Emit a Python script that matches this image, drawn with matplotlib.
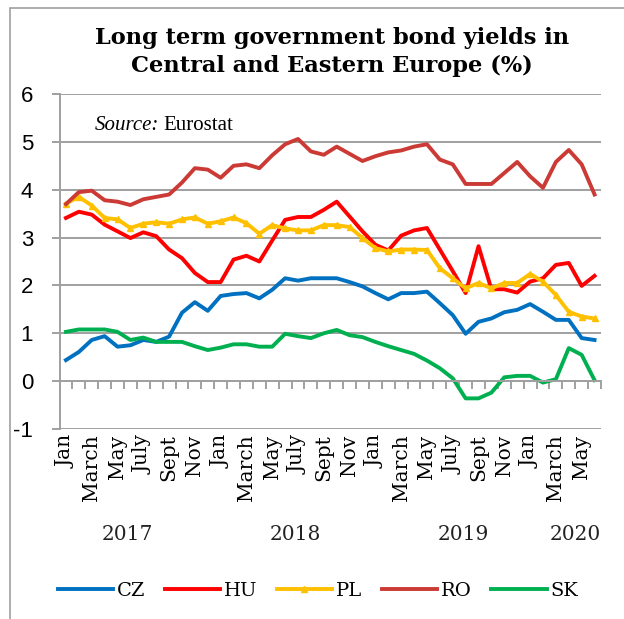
import numpy as np
import matplotlib
matplotlib.use("Agg")
import matplotlib.pyplot as plt
from matplotlib.patches import Rectangle
import matplotlib.transforms as mtransforms

plt.rcParams['axes.unicode_minus'] = False

# monthly yields, Jan 2017 .. Jun 2020
cz = [0.44, 0.61, 0.86, 0.94, 0.72, 0.75, 0.86, 0.82, 0.93, 1.43, 1.65, 1.47,
      1.78, 1.82, 1.84, 1.73, 1.91, 2.15, 2.10, 2.15, 2.15, 2.15, 2.07, 1.98,
      1.84, 1.71, 1.84, 1.84, 1.87, 1.63, 1.38, 0.99, 1.24, 1.31, 1.44, 1.49,
      1.61, 1.45, 1.28, 1.28, 0.90, 0.86]
hu = [3.41, 3.54, 3.48, 3.27, 3.13, 2.99, 3.11, 3.03, 2.75, 2.57, 2.26, 2.07,
      2.07, 2.54, 2.62, 2.50, 2.94, 3.37, 3.43, 3.43, 3.58, 3.75, 3.44, 3.13,
      2.85, 2.73, 3.04, 3.15, 3.20, 2.75, 2.30, 1.84, 2.82, 1.92, 1.92, 1.85,
      2.08, 2.15, 2.43, 2.47, 1.99, 2.20]
pl = [3.71, 3.85, 3.67, 3.41, 3.38, 3.20, 3.29, 3.32, 3.29, 3.38, 3.42, 3.29,
      3.34, 3.42, 3.30, 3.08, 3.26, 3.19, 3.15, 3.15, 3.26, 3.26, 3.22, 2.99,
      2.78, 2.71, 2.75, 2.75, 2.74, 2.36, 2.15, 1.94, 2.05, 1.94, 2.05, 2.05,
      2.24, 2.08, 1.80, 1.45, 1.35, 1.31]
ro = [3.70, 3.95, 3.98, 3.78, 3.75, 3.68, 3.80, 3.85, 3.90, 4.15, 4.45, 4.42,
      4.25, 4.50, 4.53, 4.45, 4.72, 4.95, 5.06, 4.80, 4.73, 4.90, 4.75, 4.60,
      4.70, 4.78, 4.82, 4.90, 4.95, 4.63, 4.53, 4.12, 4.12, 4.12, 4.35, 4.58,
      4.28, 4.04, 4.58, 4.83, 4.53, 3.90]
sk = [1.03, 1.08, 1.08, 1.08, 1.03, 0.86, 0.91, 0.82, 0.82, 0.82, 0.73, 0.65,
      0.70, 0.77, 0.77, 0.72, 0.72, 0.99, 0.94, 0.90, 1.00, 1.07, 0.96, 0.92,
      0.82, 0.73, 0.65, 0.57, 0.43, 0.27, 0.06, -0.36, -0.36, -0.24, 0.08, 0.11,
      0.11, -0.03, 0.04, 0.69, 0.55, 0.02]

month_names = ['Jan', 'Feb', 'March', 'Apr', 'May', 'June',
               'July', 'Aug', 'Sept', 'Oct', 'Nov', 'Dec']
years = ['2017', '2018', '2019', '2020']
year_pos = [4.8, 17.8, 30.8, 39.5]

x = np.arange(len(cz))
grey = '#a0a0a0'

fig = plt.figure(figsize=(6.24, 6.19), dpi=100)
ax = fig.add_axes([59.5 / 624, 1 - 429 / 619, (601 - 59.5) / 624, (429 - 94) / 619])

lw = 2.8
ax.plot(x, cz, color='#0070C0', lw=lw, label='CZ')
ax.plot(x, hu, color='#FF0000', lw=lw, label='HU')
ax.plot(x, pl, color='#FFC000', lw=lw, label='PL', marker='^', markersize=4)
ax.plot(x, ro, color='#CB3A34', lw=lw, label='RO')
ax.plot(x, sk, color='#00B050', lw=lw, label='SK')

ax.set_xlim(-0.5, len(x) - 0.5)
ax.set_ylim(-1, 6)
ax.set_yticks(range(-1, 7))
ax.yaxis.grid(True, color=grey, lw=1.4)
ax.set_axisbelow(True)
for side in ['top', 'right']:
    ax.spines[side].set_visible(False)
ax.spines['left'].set_color(grey)
ax.spines['left'].set_linewidth(1.4)
ax.spines['bottom'].set_position(('data', 0))
ax.spines['bottom'].set_color(grey)
ax.spines['bottom'].set_linewidth(1.4)
ax.tick_params(axis='y', length=6, width=1.4, color=grey, pad=13,
               labelsize=16)
for t in ax.get_yticklabels():
    t.set_fontfamily('Liberation Sans')

# category ticks between months on the zero line
ax.set_xticks(np.arange(len(x) + 1) - 0.5)
ax.tick_params(axis='x', length=6, width=1.4, color=grey, labelbottom=False)

# month labels below the plot area
sec = ax.secondary_xaxis('bottom')
sec.set_xticks(x[::2])
sec.set_xticklabels([month_names[i % 12] for i in x[::2]], rotation=90,
                    fontfamily='DejaVu Serif', fontsize=14.5)
sec.tick_params(length=0, pad=4)
sec.spines['bottom'].set_visible(False)

trans = mtransforms.blended_transform_factory(ax.transData, fig.transFigure)
for yr, xp in zip(years, year_pos):
    ax.text(xp, 1 - 535 / 619, yr, transform=trans, ha='center', va='center',
            fontfamily='DejaVu Serif', fontsize=14.5, color='#222222')

src = ax.text(0.066, 0.905, 'Source:', transform=ax.transAxes, fontsize=15,
              fontfamily='Liberation Serif', fontstyle='italic', va='center')
ax.annotate('Eurostat', xy=(1, 0.5), xycoords=src, xytext=(3, 0),
            textcoords='offset points', va='center', fontsize=15,
            fontfamily='Liberation Serif')

fig.text(332 / 624, 1 - 52 / 619,
         'Long term government bond yields in\nCentral and Eastern Europe (%)',
         ha='center', va='center', fontfamily='DejaVu Serif',
         fontweight='bold', fontsize=16.2, linespacing=1.35)

fig.legend(loc='center', bbox_to_anchor=(318 / 624, 1 - 591 / 619), ncol=5,
           frameon=False, handlelength=2.85, handletextpad=0.2,
           columnspacing=1.0, prop={'family': 'DejaVu Serif', 'size': 14})

# chart area border
fig.patches.append(Rectangle((10 / 624, -0.1), 1.2, 1.1 - 8 / 619,
                             transform=fig.transFigure, fill=False,
                             edgecolor=grey, lw=1.2))

fig.savefig('out.png', dpi=100)
